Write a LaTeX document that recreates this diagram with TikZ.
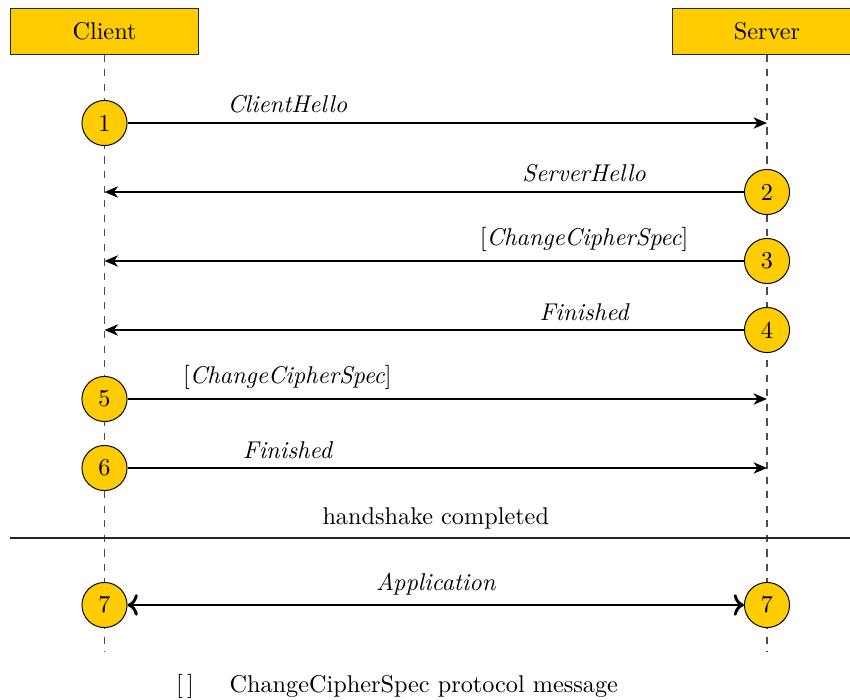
\documentclass[tikz,border=0pt]{standalone}
\usetikzlibrary{arrows.meta}
\definecolor{tlsgold}{RGB}{255,204,0}
\begin{document}
\begin{tikzpicture}[x=0.41236pt,y=-0.41236pt,
  party/.style={draw=black!85,fill=tlsgold,minimum width=77.9pt,minimum height=18.6pt,inner sep=0pt},
  stepcircle/.style={circle,draw=black,fill=tlsgold,minimum size=18.6pt,inner sep=0pt},
  life/.style={dashed,black!70,line width=0.5pt},
  msg/.style={very thick,-{Stealth[length=5.5pt,width=4.6pt,inset=1.6pt]}},
  lbl/.style={above,font=\itshape}]
\useasboundingbox (0,0) rectangle (850,699);
\node[party] (client) at (104.5,31.5) {Client};
\node[party] (server) at (767,31.5) {Server};
\coordinate (cend) at (104.5,652);
\coordinate (send) at (767,652);
\draw[life] (client.south) -- (cend);
\draw[life] (server.south) -- (send);
% circles
\node[stepcircle] (c1) at (104.5,123) {1};
\node[stepcircle] (c2) at (767,192) {2};
\node[stepcircle] (c3) at (767,261) {3};
\node[stepcircle] (c4) at (767,330) {4};
\node[stepcircle] (c5) at (104.5,399) {5};
\node[stepcircle] (c6) at (104.5,468) {6};
\node[stepcircle] (c7a) at (104.5,605) {7};
\node[stepcircle] (c7b) at (767,605) {7};
% end points on lifelines
\coordinate (s1) at (767,123);
\coordinate (k2) at (104.5,192);
\coordinate (k3) at (104.5,261);
\coordinate (k4) at (104.5,330);
\coordinate (s5) at (767,399);
\coordinate (s6) at (767,468);
% messages
\draw[msg] (c1) -- node[lbl,pos=0.25] {ClientHello} (s1);
\draw[msg] (c2) -- node[lbl,pos=0.25] {ServerHello} (k2);
\draw[msg] (c3) -- node[lbl,pos=0.25] {{\upshape[}ChangeCipherSpec{\upshape]}} (k3);
\draw[msg] (c4) -- node[lbl,pos=0.25] {Finished} (k4);
\draw[msg] (c5) -- node[lbl,pos=0.25] {{\upshape[}ChangeCipherSpec{\upshape]}} (s5);
\draw[msg] (c6) -- node[lbl,pos=0.25] {Finished} (s6);
% separator
\coordinate (sepl) at (10,538);
\coordinate (sepr) at (850,538);
\draw[black!85,line width=0.5pt] (sepl) -- (sepr);
\node[anchor=south,inner sep=3.5pt] (hs) at (435.75,538) {handshake completed};
\draw[very thick,<->] (c7a) -- node[lbl] {Application} (c7b);
% legend
\node (lgb) at (185,686) {[\,]};
\node[anchor=west] (lgt) at (221,686) {ChangeCipherSpec protocol message};
\end{tikzpicture}
\end{document}
